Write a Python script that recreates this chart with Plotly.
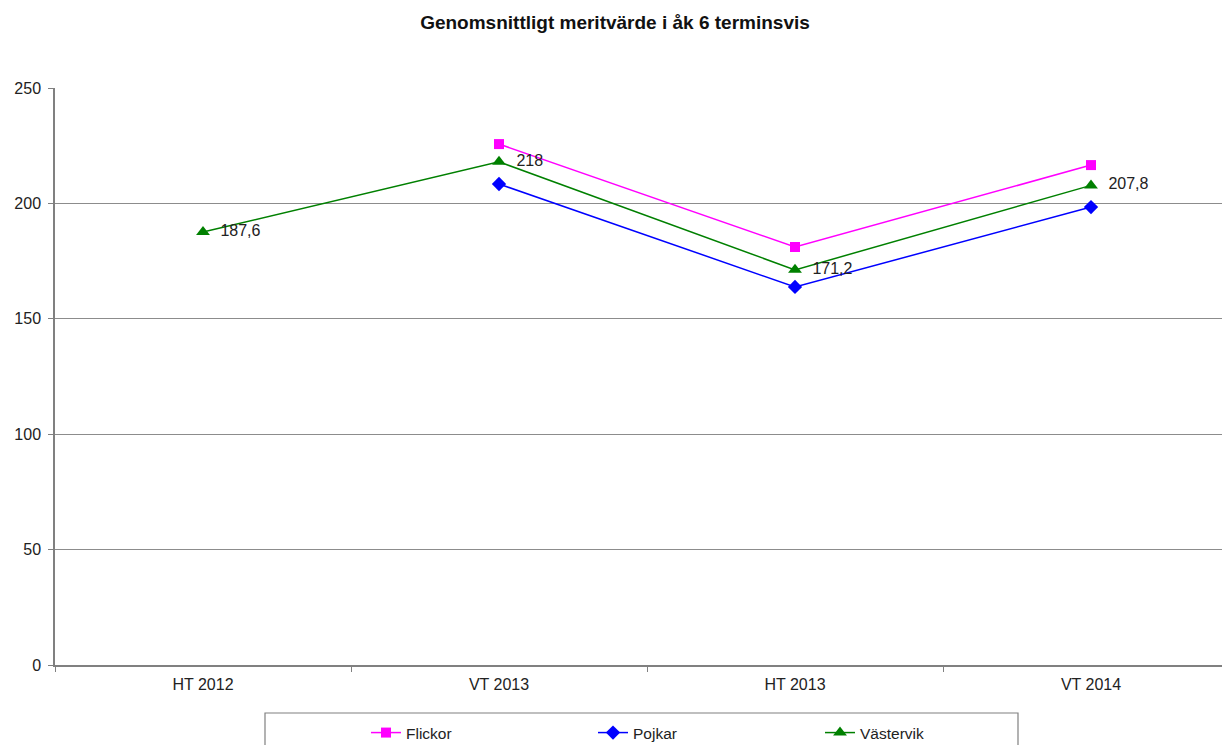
import plotly.graph_objects as go

categories = ["HT 2012", "VT 2013", "HT 2013", "VT 2014"]
flickor = [None, 225.7, 181.1, 216.6]
pojkar = [None, 208.4, 163.8, 198.4]
vastervik = [187.6, 218.0, 171.2, 207.8]

font_family = "Liberation Sans, Arial, sans-serif"

def fmt(v):
    return "  " + f"{v:g}".replace(".", ",")

# page body has an 8px default margin; figure is sized to fit the window
W, H = 1222, 737
L, T = 47, 80
PW, PH = 1175, 577
B = H - T - PH

fig = go.Figure()
fig.add_trace(go.Scatter(
    x=categories, y=flickor, name="Flickor", mode="lines+markers",
    line=dict(color="#FF00FF", width=1.5),
    marker=dict(symbol="square", size=10, color="#FF00FF"),
))
fig.add_trace(go.Scatter(
    x=categories, y=pojkar, name="Pojkar", mode="lines+markers",
    line=dict(color="#0000FF", width=1.5),
    marker=dict(symbol="diamond", size=11, color="#0000FF"),
))
fig.add_trace(go.Scatter(
    x=categories, y=vastervik, name="Västervik", mode="lines+markers+text",
    line=dict(color="#008000", width=1.5),
    marker=dict(symbol="triangle-up", size=12, color="#008000"),
    text=[fmt(v) for v in vastervik], textposition="middle right",
    textfont=dict(size=16, color="#222222", family=font_family),
))

fig.update_layout(
    width=W, height=H,
    margin=dict(l=L, r=0, t=T, b=B, autoexpand=False),
    paper_bgcolor="white", plot_bgcolor="white",
    font=dict(family=font_family, size=16, color="#222222"),
    title=dict(text="<b>Genomsnittligt meritvärde i åk 6 terminsvis</b>",
               x=(615 - 8) / W, xanchor="center", y=1 - 14 / H, yanchor="middle",
               font=dict(size=19, color="#111111")),
    xaxis=dict(
        type="category", range=[-0.5, -0.5 + PW / 296],
        showline=True, linecolor="#808080", linewidth=1.5,
        showgrid=False, ticks="outside", ticklen=5, tickcolor="#808080",
        tickson="boundaries", automargin=False, ticklabelstandoff=4,
    ),
    yaxis=dict(
        range=[0, 250], dtick=50,
        showline=True, linecolor="#808080", linewidth=1.5,
        showgrid=True, gridcolor="#8c8c8c", gridwidth=1,
        ticks="outside", ticklen=5, tickcolor="#808080",
        zeroline=False, automargin=False, ticklabelstandoff=4,
    ),
    legend=dict(
        orientation="h", x=(366 - 55) / PW, xanchor="left",
        y=(665 - 716) / PH, yanchor="top",
        borderwidth=0, bgcolor="rgba(0,0,0,0)",
        entrywidth=182, font=dict(size=15.5),
        itemwidth=30,
    ),
    shapes=[dict(
        type="rect", xref="paper", yref="paper",
        x0=(265 - 55) / PW, x1=(1018 - 55) / PW,
        y0=(665 - 713) / PH, y1=(665 - 770) / PH,
        line=dict(color="#808080", width=1.2), fillcolor="rgba(0,0,0,0)",
        layer="below",
    )],
    showlegend=True,
)

fig.write_html("out.html")
